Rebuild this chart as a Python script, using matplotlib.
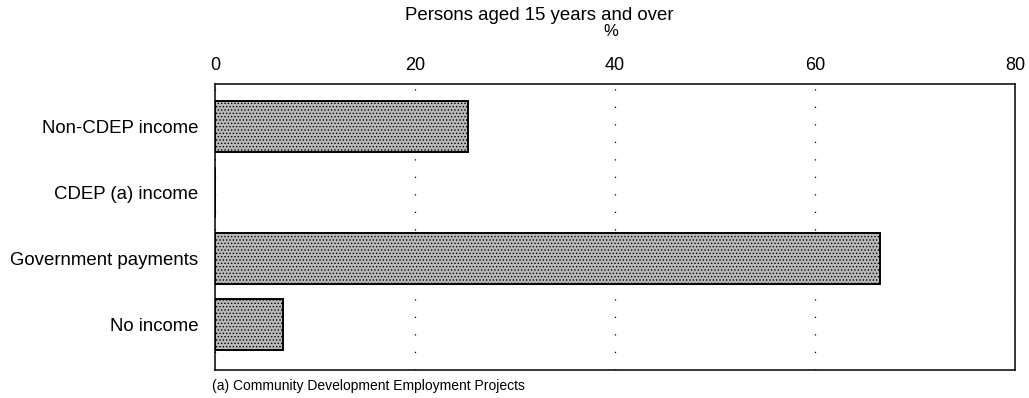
import numpy as np
import matplotlib.pyplot as plt

plt.rcParams['font.family'] = ['Liberation Sans', 'DejaVu Sans']
plt.rcParams['hatch.linewidth'] = 0.6
plt.rcParams['hatch.color'] = '#3a3a3a'

# Income source, persons aged 15 years and over (%)
categories = ["Non-CDEP income", "CDEP (a) income", "Government payments", "No income"]
values = [25.3, 0.0, 66.5, 6.8]
x_ticks = [0, 20, 40, 60, 80]

fig = plt.figure(figsize=(10.29, 3.98), dpi=100)
ax = fig.add_axes([0.2089, 0.0704, 0.7775, 0.7186])

y = np.arange(len(categories))
ax.barh(y, values, height=0.77, color='#b9b9b9', edgecolor='black',
        linewidth=1.4, hatch='.....', zorder=3)

ax.set_xlim(0, 80)
ax.set_ylim(3.68, -0.64)
ax.set_xticks(x_ticks)
ax.set_xticklabels([str(t) for t in x_ticks])
ax.xaxis.tick_top()
ax.tick_params(axis='x', length=0, pad=7, labelsize=13)
ax.set_yticks(y)
ax.set_yticklabels(categories)
ax.tick_params(axis='y', length=0, pad=12, labelsize=13.4)

# sparse dotted gridlines
ax.grid(axis='x', color='black', linestyle=(0, (1, 13)), linewidth=0.9, zorder=1)
ax.grid(axis='y', visible=False)
for side in ['top', 'bottom', 'left', 'right']:
    ax.spines[side].set_linewidth(1.1)
    ax.spines[side].set_color('black')

fig.text(0.524, 0.962, "Persons aged 15 years and over", ha='center', va='center',
         fontsize=13.4)
fig.text(0.594, 0.922, "%", ha='center', va='center', fontsize=12)
fig.text(0.206, 0.030, "(a) Community Development Employment Projects",
         ha='left', va='center', fontsize=10)

plt.savefig("out.png", dpi=100)
plt.close()
